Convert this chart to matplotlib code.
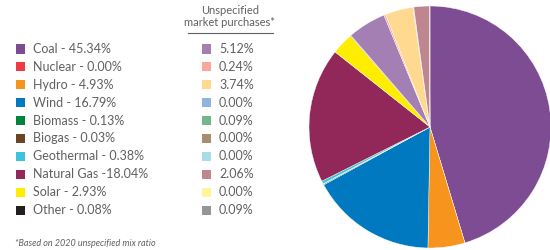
import matplotlib
matplotlib.use("Agg")
import matplotlib.pyplot as plt
from matplotlib.patches import Rectangle

# fuel mix data
sources = ["Coal", "Nuclear", "Hydro", "Wind", "Biomass", "Biogas",
           "Geothermal", "Natural Gas", "Solar", "Other"]
specified = [45.34, 0.00, 4.93, 16.79, 0.13, 0.03, 0.38, 18.04, 2.93, 0.08]
unspecified = [5.12, 0.24, 3.74, 0.00, 0.09, 0.00, 0.00, 2.06, 0.00, 0.09]
spec_labels = ["Coal - 45.34%", "Nuclear - 0.00%", "Hydro - 4.93%", "Wind - 16.79%",
               "Biomass - 0.13%", "Biogas - 0.03%", "Geothermal - 0.38%",
               "Natural Gas -18.04%", "Solar - 2.93%", "Other - 0.08%"]
unspec_labels = ["5.12%", "0.24%", "3.74%", "0.00%", "0.09%", "0.00%",
                 "0.00%", "2.06%", "0.00%", "0.09%"]

dark_cols = ["#7E4C92", "#EE3A43", "#F7941D", "#0079C1", "#00843D", "#6B4524",
             "#3DC3DC", "#92285A", "#FFED00", "#231F20"]
light_cols = ["#A37FB3", "#F9A99A", "#FFD98F", "#8FB4DE", "#72B68A", "#A88D6F",
              "#A7DDEA", "#C0868F", "#FFF59B", "#939598"]

txt = "#5F6062"
plt.rcParams['font.family'] = ['Lato', 'DejaVu Sans']

W, H = 550, 250
fig = plt.figure(figsize=(5.5, 2.5), dpi=100)

# pie
ax = fig.add_axes([309 / W, 2 / H, 242 / W, 242 / H])
vals = specified + unspecified
cols = dark_cols + light_cols
ax.pie(vals, colors=cols, startangle=90, counterclock=False, radius=1,
       wedgeprops=dict(linewidth=0.3, edgecolor="white"))
ax.set_xlim(-1, 1)
ax.set_ylim(-1, 1)
ax.set_aspect("equal")
ax.axis("off")

def fx(x):
    return x / W

def fy(y):
    return 1 - y / H

y0 = 49
step = 17.9
for i in range(len(sources)):
    y = y0 + i * step
    fig.add_artist(Rectangle((fx(16), fy(y + 4.5)), 9 / W, 9 / H,
                             transform=fig.transFigure, color=dark_cols[i], lw=0))
    fig.text(fx(33), fy(y), spec_labels[i], fontsize=9, color=txt, va="center")
    fig.add_artist(Rectangle((fx(202), fy(y + 4.5)), 9 / W, 9 / H,
                             transform=fig.transFigure, color=light_cols[i], lw=0))
    fig.text(fx(219), fy(y), unspec_labels[i], fontsize=9, color=txt, va="center")

fig.text(fx(230), fy(10), "Unspecified", fontsize=8, color=txt, ha="center", va="center")
fig.text(fx(230), fy(22), "market purchases*", fontsize=8, color=txt, ha="center", va="center")
fig.add_artist(plt.Line2D([fx(188), fx(273)], [fy(33), fy(33)], color=txt, lw=0.8,
                          transform=fig.transFigure))
fig.text(fx(15), fy(244), "*Based on 2020 unspecified mix ratio", fontsize=6.5,
         color=txt, style="italic", va="center")

fig.savefig("out.png", dpi=100)
